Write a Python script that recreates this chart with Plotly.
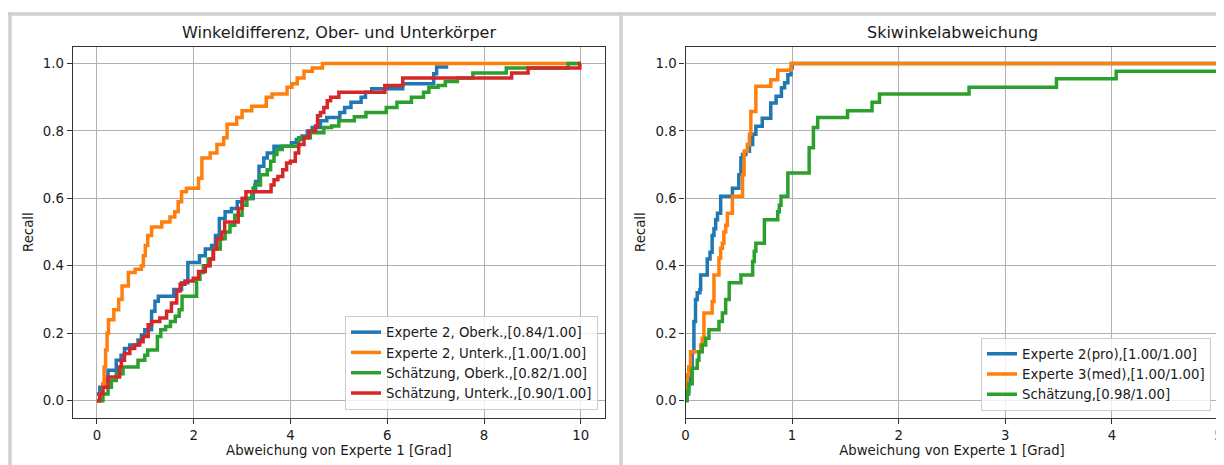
import plotly.graph_objects as go

# The page body has an 8px margin, so the figure is sized to fill the rest
OFF = 8
W, H = 1224 - OFF, 465 - OFF

# ---------------- data: left chart (Winkeldifferenz) ----------------
e2_ober_x = [0, 0.06, 0.16, 0.23, 0.40, 0.50, 0.57, 0.68, 0.85, 0.92, 0.99, 1.13, 1.20, 1.27, 1.59,
             1.75, 1.88, 2.12, 2.24, 2.37, 2.45, 2.53, 2.65, 2.78, 2.90, 3.02, 3.23, 3.28, 3.35, 3.45,
             3.52, 3.66, 4.02, 4.12, 4.24, 4.35, 4.45, 4.62, 4.75, 5.02, 5.12, 5.25, 5.46, 5.55, 5.68,
             6.32, 6.96, 7.02, 7.26]
e2_ober_y = [0.02, 0.04, 0.06, 0.09, 0.12, 0.135, 0.155, 0.165, 0.18, 0.195, 0.21, 0.265, 0.295, 0.31, 0.33,
             0.35, 0.41, 0.43, 0.45, 0.46, 0.49, 0.54, 0.56, 0.57, 0.59, 0.60, 0.63, 0.65, 0.695, 0.72,
             0.735, 0.755, 0.765, 0.775, 0.785, 0.80, 0.81, 0.83, 0.84, 0.855, 0.87, 0.885, 0.90, 0.915, 0.925,
             0.94, 0.97, 0.99, 0.99]

e2_unter_x = [0, 0.08, 0.12, 0.15, 0.18, 0.21, 0.24, 0.35, 0.45, 0.52, 0.65, 0.79, 0.92, 0.96, 1.0,
              1.05, 1.13, 1.34, 1.51, 1.61, 1.68, 1.75, 1.85, 2.10, 2.17, 2.34, 2.48, 2.62, 2.69, 2.89,
              3.0, 3.2, 3.5, 3.62, 3.93, 4.03, 4.14, 4.28, 4.45, 4.66, 10.0]
e2_unter_y = [0, 0.02, 0.05, 0.10, 0.15, 0.20, 0.24, 0.27, 0.30, 0.34, 0.38, 0.39, 0.40, 0.43, 0.46,
              0.49, 0.515, 0.53, 0.545, 0.56, 0.59, 0.62, 0.63, 0.66, 0.72, 0.735, 0.76, 0.78, 0.82, 0.84,
              0.86, 0.873, 0.90, 0.91, 0.93, 0.94, 0.957, 0.977, 0.987, 1.0, 1.0]

sch_ober_x = [0, 0.125, 0.23, 0.30, 0.40, 0.54, 0.85, 0.99, 1.05, 1.25, 1.32, 1.42, 1.52, 1.62, 1.70,
              1.76, 2.06, 2.13, 2.2, 2.3, 2.4, 2.55, 2.65, 2.75, 2.85, 3.0, 3.1, 3.2, 3.26, 3.38,
              3.52, 3.59, 3.66, 3.72, 3.83, 4.17, 4.41, 4.69, 4.85, 5.0, 5.32, 5.56, 5.98, 6.2, 6.5,
              6.75, 6.86, 7.05, 7.2, 7.45, 7.77, 8.46, 9.74, 10.0]
sch_ober_y = [0, 0.02, 0.04, 0.06, 0.08, 0.10, 0.12, 0.135, 0.15, 0.19, 0.21, 0.22, 0.235, 0.25, 0.27,
              0.31, 0.36, 0.38, 0.40, 0.42, 0.45, 0.48, 0.50, 0.52, 0.55, 0.58, 0.60, 0.62, 0.64, 0.67,
              0.685, 0.71, 0.73, 0.745, 0.755, 0.78, 0.795, 0.81, 0.815, 0.83, 0.842, 0.855, 0.87, 0.885, 0.90,
              0.915, 0.93, 0.935, 0.947, 0.957, 0.972, 0.987, 1.0, 1.0]

sch_unter_x = [0, 0.055, 0.125, 0.23, 0.47, 0.505, 0.57, 0.68, 0.78, 0.885, 0.955, 1.06, 1.13, 1.30, 1.44,
               1.54, 1.65, 1.72, 1.82, 1.99, 2.10, 2.24, 2.34, 2.41, 2.48, 2.58, 2.64, 2.92, 3.0, 3.08,
               3.60, 3.66, 3.74, 3.84, 3.92, 4.0, 4.10, 4.17, 4.28, 4.38, 4.52, 4.56, 4.62, 4.69, 4.76,
               4.83, 5.0, 5.95, 6.32, 8.57, 8.91, 9.98, 10.0]
sch_unter_y = [0, 0.02, 0.04, 0.07, 0.10, 0.12, 0.14, 0.155, 0.165, 0.175, 0.19, 0.225, 0.235, 0.245, 0.265,
               0.29, 0.325, 0.345, 0.355, 0.363, 0.383, 0.40, 0.42, 0.45, 0.48, 0.50, 0.53, 0.57, 0.60, 0.62,
               0.64, 0.655, 0.665, 0.685, 0.705, 0.71, 0.735, 0.76, 0.78, 0.80, 0.815, 0.845, 0.855, 0.87, 0.89,
               0.90, 0.915, 0.935, 0.957, 0.972, 0.987, 1.0, 1.0]

left_names = ["Experte 2, Oberk.,[0.84/1.00]", "Experte 2, Unterk.,[1.00/1.00]",
              "Schätzung, Oberk.,[0.82/1.00]", "Schätzung, Unterk.,[0.90/1.00]"]

# ---------------- data: right chart (Skiwinkelabweichung) ----------------
pro_x = [0, 0.03, 0.045, 0.063, 0.079, 0.094, 0.11, 0.135, 0.142, 0.204, 0.23, 0.25, 0.267, 0.283, 0.30,
         0.33, 0.44, 0.50, 0.52, 0.535, 0.566, 0.60, 0.63, 0.66, 0.72, 0.80, 0.85, 0.90, 0.93, 0.96,
         0.99, 1.0, 5.0]
pro_y = [0.02, 0.05, 0.10, 0.145, 0.235, 0.30, 0.32, 0.33, 0.373, 0.42, 0.44, 0.49, 0.51, 0.537, 0.556,
         0.606, 0.63, 0.67, 0.72, 0.73, 0.74, 0.76, 0.79, 0.814, 0.838, 0.883, 0.903, 0.928, 0.943, 0.967,
         0.987, 1.0, 1.0]

med_x = [0, 0.016, 0.03, 0.047, 0.142, 0.157, 0.173, 0.25, 0.267, 0.314, 0.33, 0.346, 0.36, 0.377, 0.393,
         0.44, 0.535, 0.55, 0.58, 0.60, 0.613, 0.66, 0.80, 0.865, 0.99, 5.0]
med_y = [0.03, 0.076, 0.10, 0.145, 0.165, 0.185, 0.26, 0.294, 0.373, 0.423, 0.452, 0.467, 0.50, 0.52, 0.556,
         0.606, 0.67, 0.74, 0.76, 0.79, 0.858, 0.933, 0.952, 0.98, 1.0, 1.0]

sch_x = [0, 0.016, 0.031, 0.063, 0.11, 0.126, 0.157, 0.189, 0.22, 0.314, 0.346, 0.377, 0.41, 0.52, 0.63,
         0.645, 0.66, 0.74, 0.865, 0.88, 0.896, 0.96, 1.16, 1.20, 1.24, 1.52, 1.75, 1.82, 2.66, 3.48,
         4.04, 5.0]
sch_y = [0, 0.027, 0.05, 0.096, 0.12, 0.145, 0.165, 0.185, 0.21, 0.235, 0.26, 0.30, 0.35, 0.373, 0.413,
         0.443, 0.467, 0.537, 0.56, 0.58, 0.606, 0.675, 0.75, 0.81, 0.84, 0.86, 0.885, 0.91, 0.93, 0.955,
         0.977, 0.977]

right_names = ["Experte 2(pro),[1.00/1.00]", "Experte 3(med),[1.00/1.00]", "Schätzung,[0.98/1.00]"]

x_left_ticks = [0, 2, 4, 6, 8, 10]
x_right_ticks = [0, 1, 2, 3, 4, 5]
y_ticks = [0.0, 0.2, 0.4, 0.6, 0.8, 1.0]

titles = ["Winkeldifferenz, Ober- und Unterkörper", "Skiwinkelabweichung"]
xlabel = "Abweichung von Experte 1 [Grad]"
ylabel = "Recall"

colors = ["#1f77b4", "#ff7f0e", "#2ca02c", "#d62728"]
FONT = "DejaVu Sans"
FS = 13.3

fig = go.Figure()

left_data = [(e2_ober_x, e2_ober_y), (e2_unter_x, e2_unter_y),
             (sch_ober_x, sch_ober_y), (sch_unter_x, sch_unter_y)]
for i, ((xs, ys), name) in enumerate(zip(left_data, left_names)):
    fig.add_trace(go.Scatter(x=xs, y=ys, mode="lines", name=name,
                             line=dict(color=colors[i], width=3.5, shape="hv"),
                             xaxis="x", yaxis="y", legend="legend"))

right_data = [(pro_x, pro_y), (med_x, med_y), (sch_x, sch_y)]
for i, ((xs, ys), name) in enumerate(zip(right_data, right_names)):
    fig.add_trace(go.Scatter(x=xs, y=ys, mode="lines", name=name,
                             line=dict(color=colors[i], width=3.5, shape="hv"),
                             xaxis="x2", yaxis="y2", legend="legend2"))

# layout geometry (screen pixels of the 1224x465 window)
L1, R1 = 72.7, 605.0
L2, R2 = 685.5, 1218.5
TOP, BOT = 46.7, 417.5


def px(x):
    return (x - OFF) / W


def py(y):
    return 1 - (y - OFF) / H


axis_common = dict(showline=True, linecolor="#333333", linewidth=1.2, mirror=True,
                   ticks="outside", ticklen=5, tickwidth=1, tickcolor="#333333",
                   showgrid=True, gridcolor="#b0b0b0", gridwidth=1, zeroline=False,
                   automargin=False,
                   tickfont=dict(family=FONT, size=FS, color="#1a1a1a"),
                   title_font=dict(family=FONT, size=FS, color="#1a1a1a"))

fig.update_layout(
    width=W, height=H,
    margin=dict(l=0, r=0, t=0, b=0),
    paper_bgcolor="white", plot_bgcolor="white",
    showlegend=True,
    xaxis=dict(domain=[px(L1), px(R1)], range=[-0.5, 10.5], tickvals=x_left_ticks,
               anchor="y", title=dict(text=xlabel, standoff=4), **axis_common),
    yaxis=dict(domain=[py(BOT), py(TOP)], range=[-0.05, 1.05], tickvals=y_ticks, tickformat=".1f",
               anchor="x", title=dict(text=ylabel, standoff=6), **axis_common),
    xaxis2=dict(domain=[px(L2), px(R2)], range=[0, 5], tickvals=x_right_ticks,
                anchor="y2", title=dict(text=xlabel, standoff=4), **axis_common),
    yaxis2=dict(domain=[py(BOT), py(TOP)], range=[-0.05, 1.05], tickvals=y_ticks, tickformat=".1f",
                anchor="x2", title=dict(text=ylabel, standoff=6), **axis_common),
    legend=dict(x=px(598), y=py(410), xanchor="right", yanchor="bottom",
                bgcolor="rgba(255,255,255,0.8)", bordercolor="#cccccc", borderwidth=1,
                font=dict(family=FONT, size=FS, color="#1a1a1a"), itemwidth=30),
    legend2=dict(x=px(1211), y=py(410.5), xanchor="right", yanchor="bottom",
                 bgcolor="rgba(255,255,255,0.8)", bordercolor="#cccccc", borderwidth=1,
                 font=dict(family=FONT, size=FS, color="#1a1a1a"), itemwidth=30),
)

# subplot titles
for t, (a, b) in zip(titles, [(L1, R1), (L2, R2)]):
    fig.add_annotation(text=t, x=px((a + b) / 2), y=py(33), xref="paper", yref="paper",
                       xanchor="center", yanchor="middle", showarrow=False,
                       font=dict(family=FONT, size=16, color="#1a1a1a"))

# panel borders (light grey frames around the two images)
border = dict(color="#d0d0d0", width=3.5)
fig.add_shape(type="line", xref="paper", yref="paper", x0=px(8), x1=1, y0=py(14), y1=py(14), line=border)
fig.add_shape(type="line", xref="paper", yref="paper", x0=px(10), x1=px(10), y0=0, y1=py(12.3), line=border)
fig.add_shape(type="line", xref="paper", yref="paper", x0=px(621), x1=px(621), y0=0, y1=py(12.3), line=border)

fig.write_html("out.html")
